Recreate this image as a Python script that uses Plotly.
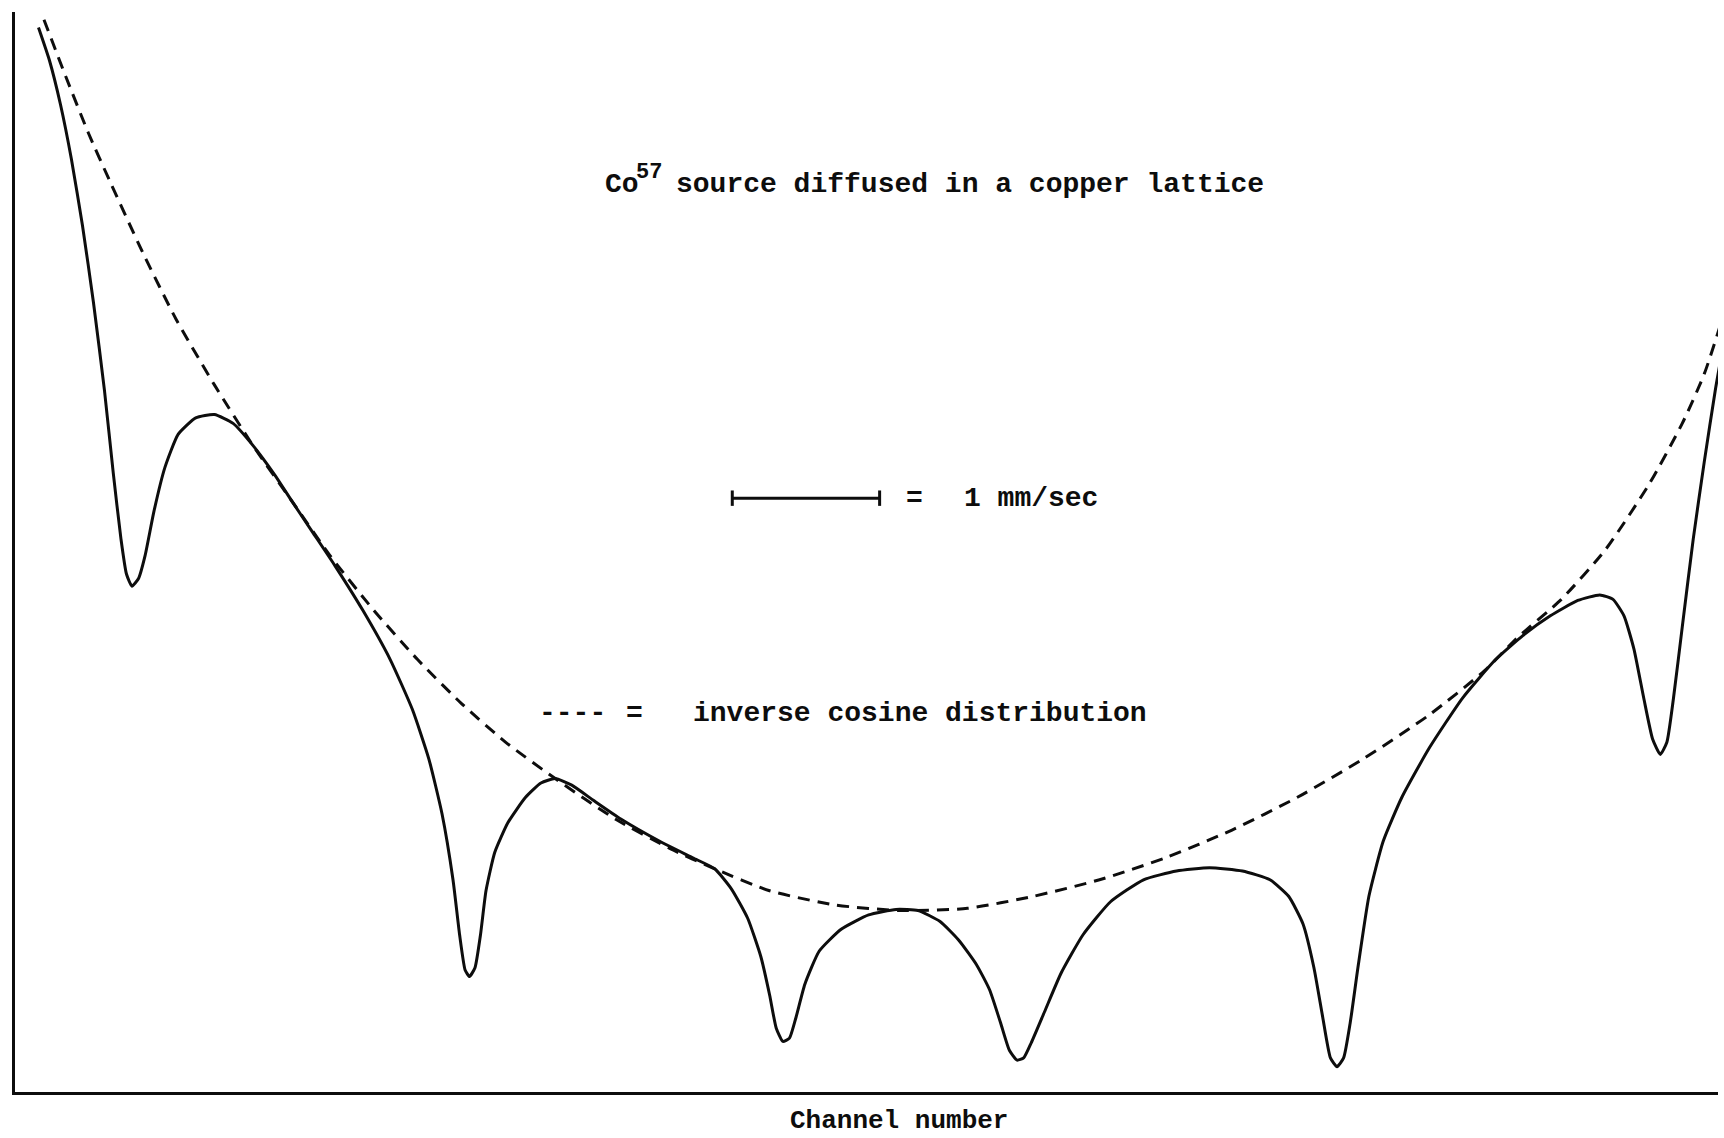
import plotly.graph_objects as go

# Measured spectrum (counts above baseline vs channel)
spectrum_channel = [35, 45, 55, 65, 75, 85, 95, 103, 110, 115, 120, 126, 132, 140, 150, 162, 178, 195,
                    212, 230, 250, 265, 285, 305, 330, 355, 375, 390, 402, 412, 418, 423, 427, 432, 437,
                    442, 450, 462, 478, 492, 505, 520, 540, 565, 600, 630, 650, 665, 680, 692, 700, 706,
                    712, 718, 724, 732, 745, 765, 790, 815, 835, 855, 872, 888, 900, 910, 918, 925, 931,
                    938, 950, 965, 985, 1010, 1040, 1070, 1100, 1130, 1155, 1172, 1185, 1195, 1203, 1210,
                    1216, 1222, 1228, 1235, 1245, 1258, 1275, 1300, 1330, 1360, 1385, 1410, 1435, 1455,
                    1467, 1477, 1486, 1495, 1503, 1510, 1516, 1522, 1530, 1540, 1550, 1560, 1568]
spectrum_counts = [968, 938, 898, 848, 788, 718, 638, 563, 503, 471, 460, 467, 488, 528, 568, 598, 613, 616,
                   608, 588, 561, 538, 508, 478, 438, 393, 348, 303, 253, 193, 143, 111, 105, 113, 143,
                   183, 218, 245, 268, 281, 285, 279, 265, 248, 228, 213, 203, 185, 158, 123, 88, 58,
                   46, 49, 68, 98, 128, 148, 161, 166, 165, 155, 138, 116, 93, 63, 38, 29, 31,
                   45, 73, 108, 143, 173, 193, 201, 204, 201, 193, 178, 153, 113, 68, 31,
                   23, 31, 63, 113, 178, 228, 268, 313, 358, 393, 415, 433, 447, 452,
                   448, 433, 403, 358, 321, 307, 318, 358, 423, 503, 573, 638, 683]

# Inverse cosine distribution envelope
envelope_channel = [40, 60, 80, 100, 130, 160, 195, 230, 265, 300, 340, 380, 420, 460, 505, 560, 610, 650,
                    700, 760, 820, 880, 940, 1000, 1060, 1120, 1180, 1240, 1300, 1350, 1380, 1420, 1460,
                    1500, 1530, 1550, 1568]
envelope_counts = [975, 923, 873, 828, 763, 703, 643, 588, 538, 488, 438, 393, 353, 318, 285, 248, 221, 203,
                   183, 170, 165, 167, 178, 193, 213, 238, 268, 303, 343, 383, 413, 448, 493,
                   553, 608, 653, 708]

# 1 mm/sec velocity scale, in channels
scale_start, scale_end, scale_level = 666, 800, 540

TYPE_FONT = "Liberation Mono"
INK = "#0d0d0d"
LW = 3

fig = go.Figure()
fig.add_trace(go.Scatter(x=envelope_channel, y=envelope_counts, mode="lines",
                         line=dict(color=INK, width=LW, dash="12px,8px", shape="spline", smoothing=0.6),
                         hoverinfo="skip"))
fig.add_trace(go.Scatter(x=spectrum_channel, y=spectrum_counts, mode="lines",
                         line=dict(color=INK, width=LW, shape="spline", smoothing=0.5),
                         hoverinfo="skip"))

# scale bar with end caps
fig.add_shape(type="line", x0=scale_start, x1=scale_end, y0=scale_level, y1=scale_level,
              line=dict(color=INK, width=LW))
for xc in (scale_start, scale_end):
    fig.add_shape(type="line", x0=xc, x1=xc, y0=scale_level - 7, y1=scale_level + 7,
                  line=dict(color=INK, width=LW))

font = dict(family=TYPE_FONT, size=28, color=INK)
sup_font = dict(family=TYPE_FONT, size=22, color=INK)
ann = [
    dict(x=548, y=825, text="<b>Co</b>", xanchor="left", font=font),
    dict(x=577, y=825, text="<b>57</b>", xanchor="left", yshift=12, font=sup_font),
    dict(x=613, y=825, text="<b>source diffused in a copper lattice</b>", xanchor="left", font=font),
    dict(x=832, y=540, text="<b>=</b>", xanchor="center", font=font),
    dict(x=875, y=540, text="<b>1 mm/sec</b>", xanchor="left", font=font),
    dict(x=521, y=344, text="<b>----</b>", xanchor="center", font=font),
    dict(x=577, y=344, text="<b>=</b>", xanchor="center", font=font),
    dict(x=628, y=344, text="<b>inverse cosine distribution</b>", xanchor="left", font=font),
]
for a in ann:
    fig.add_annotation(**a, yanchor="middle", showarrow=False)

# axis title under the baseline
fig.add_annotation(x=818, xref="x", y=0, yref="paper", yshift=-29, text="<b>Channel number</b>",
                   xanchor="center", yanchor="middle", showarrow=False,
                   font=dict(family=TYPE_FONT, size=26, color=INK))

fig.update_layout(
    width=1724, height=1138,
    margin=dict(l=15, r=6, t=12, b=46),
    paper_bgcolor="white", plot_bgcolor="white",
    showlegend=False,
    xaxis=dict(range=[13.64, 1562.5], showline=True, linecolor=INK, linewidth=LW,
               showgrid=False, zeroline=False, showticklabels=False, ticks=""),
    yaxis=dict(range=[0, 982.1], showline=True, linecolor=INK, linewidth=LW,
               showgrid=False, zeroline=False, showticklabels=False, ticks=""),
)

fig.write_html("out.html")
